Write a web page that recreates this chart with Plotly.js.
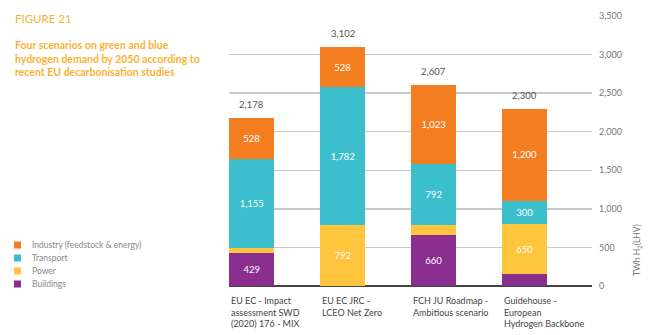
<!DOCTYPE html>
<html><head><meta charset="utf-8">
<script src="https://cdn.plot.ly/plotly-3.0.1.min.js"></script>
<style>html,body{margin:0;padding:0;background:#fff}#chart{width:659px;height:335px}</style>
</head><body><div id="chart"></div>
<script>
var categories = [
  "EU EC - Impact<br>assessment SWD<br>(2020) 176 - MIX",
  "EU EC JRC -<br>LCEO Net Zero",
  "FCH JU Roadmap -<br>Ambitious scenario",
  "Guidehouse -<br>European<br>Hydrogen Backbone"
];
var buildings = [429, 0, 660, 150];
var power = [66, 792, 132, 650];
var transport = [1155, 1782, 792, 300];
var industry = [528, 528, 1023, 1200];
var totals = [2178, 3102, 2607, 2300];
var seriesNames = ["Buildings", "Power", "Transport", "Industry (feedstock & energy)"];
var seriesColors = ["#8a2f8f", "#fec53d", "#3bbfcc", "#f47d20"];
var yTicks = [0, 500, 1000, 1500, 2000, 2500, 3000, 3500];

var W = 659, H = 335, L = 229, R = 592, T = 16, B = 286;
function px(x){ return (x - L) / (R - L); }
function py(y){ return (B - y) / (B - T); }
function fmt(v){ return v.toLocaleString('en-US'); }

var series = [buildings, power, transport, industry];
var xs = categories.map(function(c, i){ return i; });
var font = "Lato, 'Open Sans', sans-serif";

var traces = series.map(function(vals, k){
  return {
    type: 'bar', x: xs, y: vals, name: seriesNames[k],
    marker: {color: seriesColors[k], line: {width: 0}},
    width: 0.5,
    text: vals.map(function(v){ return fmt(v); }),
    textposition: vals.map(function(v){ return v > 200 ? 'inside' : 'none'; }),
    insidetextanchor: 'middle',
    textfont: {color: '#ffffff', size: 9.5, family: font},
    hoverinfo: 'none', showlegend: false, cliponaxis: false
  };
});

var annotations = [];
totals.forEach(function(t, i){
  annotations.push({x: i, y: t, xref: 'x', yref: 'y', text: fmt(t), showarrow: false,
    yanchor: 'bottom', yshift: 6, font: {size: 9.5, color: '#555', family: font}});
});
categories.forEach(function(c, i){
  annotations.push({x: i - 0.25, y: py(293), xref: 'x', yref: 'paper', text: c, showarrow: false,
    xanchor: 'left', yanchor: 'top', align: 'left', font: {size: 9, color: '#444', family: font}});
});
annotations.push({x: px(13), y: py(18), xref: 'paper', yref: 'paper', text: 'FIGURE 21', showarrow: false,
  xanchor: 'left', yanchor: 'middle', font: {size: 11.5, color: '#fbb232', family: font}});
annotations.push({x: px(13), y: py(37), xref: 'paper', yref: 'paper',
  text: '<b>Four scenarios on green and blue<br>hydrogen demand by 2050 according to<br>recent EU decarbonisation studies</b>',
  showarrow: false, xanchor: 'left', yanchor: 'top', align: 'left', font: {size: 10.5, color: '#fbb232', family: font}});
annotations.push({x: px(637), y: py(250), xref: 'paper', yref: 'paper', text: 'TWh H<sub>2</sub>(LHV)',
  showarrow: false, textangle: -90, xanchor: 'center', yanchor: 'middle', font: {size: 8.5, color: '#777', family: font}});

var shapes = [];
var legY = [245, 258, 271, 284];
[3, 2, 1, 0].forEach(function(k, j){
  var yc = legY[j];
  shapes.push({type: 'rect', xref: 'paper', yref: 'paper', x0: px(14), x1: px(21), y0: py(yc + 3.5), y1: py(yc - 3.5),
    fillcolor: seriesColors[k], line: {width: 0}});
  annotations.push({x: px(30), y: py(yc), xref: 'paper', yref: 'paper', text: seriesNames[k], showarrow: false,
    xanchor: 'left', yanchor: 'middle', font: {size: 8.5, color: '#888', family: font}});
});

var layout = {
  width: W, height: H,
  margin: {l: L, r: W - R, t: T, b: H - B, pad: 0},
  paper_bgcolor: '#fff', plot_bgcolor: '#fff',
  barmode: 'stack', showlegend: false,
  xaxis: {range: [-0.25, 3.74], showticklabels: false, showgrid: false, zeroline: false, fixedrange: true,
    tickvals: xs},
  yaxis: {range: [0, 3500], side: 'right', tickvals: yTicks, ticktext: yTicks.map(fmt),
    showgrid: true, gridcolor: '#c9c9c9', gridwidth: 1.5, zeroline: true, zerolinecolor: '#444', zerolinewidth: 1.5,
    ticks: '', ticklabelstandoff: 6, tickfont: {size: 9, color: '#777', family: font}, fixedrange: true},
  annotations: annotations,
  shapes: shapes,
  font: {family: font}
};
Plotly.newPlot('chart', traces, layout, {displayModeBar: false, staticPlot: true});
</script></body></html>
